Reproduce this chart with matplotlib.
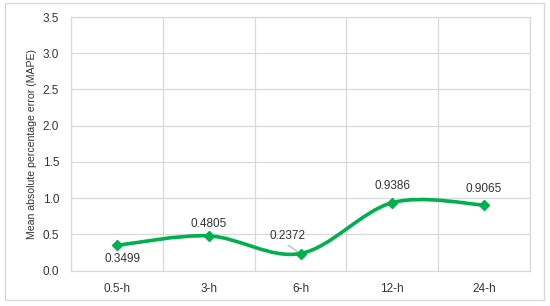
import matplotlib
matplotlib.use("Agg")
import matplotlib.pyplot as plt
from matplotlib.path import Path
from matplotlib.patches import PathPatch, Rectangle
import numpy as np

categories = ["0.5-h", "3-h", "6-h", "12-h", "24-h"]
mape = [0.3499, 0.4805, 0.2372, 0.9386, 0.9065]
ylabel = "Mean absolute percentage error (MAPE)"

plt.rcParams['font.family'] = ['Liberation Sans', 'DejaVu Sans']
green = "#00B04F"
txt = "#333333"

fig = plt.figure(figsize=(5.5, 3.06), dpi=100)
ax = fig.add_axes([71/550, 1 - 270.7/306, (530-71)/550, (270.7-17)/306])

x = np.arange(len(categories))
y = np.array(mape)

# smooth line (Catmull-Rom style, like Excel's smoothed line) as Bezier path
k = 1/6
verts = [(x[0], y[0])]
codes = [Path.MOVETO]
n = len(x)
for i in range(n - 1):
    p0 = np.array([x[max(i-1, 0)], y[max(i-1, 0)]])
    p1 = np.array([x[i], y[i]])
    p2 = np.array([x[i+1], y[i+1]])
    p3 = np.array([x[min(i+2, n-1)], y[min(i+2, n-1)]])
    c1 = p1 + (p2 - p0) * k
    c2 = p2 - (p3 - p1) * k
    verts += [tuple(c1), tuple(c2), tuple(p2)]
    codes += [Path.CURVE4] * 3
ax.add_patch(PathPatch(Path(verts, codes), facecolor='none', edgecolor=green,
                       lw=2.6, capstyle='round', joinstyle='round', zorder=3))
ax.plot(x, y, linestyle='none', marker='D', ms=5, color=green, zorder=4)

ax.set_xlim(-0.5, n - 0.5)
ax.set_ylim(0, 3.5)
ax.set_yticks(np.arange(0, 3.51, 0.5))
ax.set_yticklabels([f"{v:.1f}" for v in np.arange(0, 3.51, 0.5)])
ax.set_xticks(x)
ax.set_xticklabels(categories)
ax.set_xticks(np.arange(-0.5, n, 1), minor=True)
ax.grid(True, which='major', axis='y', color='#D9D9D9', lw=0.9)
ax.grid(True, which='minor', axis='x', color='#D9D9D9', lw=0.9)
ax.tick_params(which='both', length=0, labelsize=8.5, colors=txt, pad=9)
ax.tick_params(axis='y', pad=8.5)
for s in ax.spines.values():
    s.set_color('#D9D9D9')
    s.set_linewidth(0.9)
ax.set_axisbelow(True)
ax.set_ylabel(ylabel, fontsize=7.6, color=txt, labelpad=4)

# data labels (offsets in points)
offsets = [(4, -10), (0, 8.5), (-9, 12.5), (0, 12), (0, 11.5)]
for xi, yi, (dx, dy) in zip(x, y, offsets):
    ax.annotate(f"{yi:.4f}", (xi, yi), xytext=(dx, dy), textcoords='offset points',
                ha='center', va='center', fontsize=8.5, color=txt, zorder=5)
# leader line for 6-h label
ax.annotate("", (2, mape[2]), xytext=(-9, 6), textcoords='offset points',
            arrowprops=dict(arrowstyle='-', color='#A6A6A6', lw=0.7, shrinkA=0, shrinkB=2))

fig.patches.append(Rectangle((5/550, 6/306), 539/550, 297/306, transform=fig.transFigure,
                             fill=False, edgecolor='#D9D9D9', lw=1.0))
fig.savefig("out.png", dpi=100)
